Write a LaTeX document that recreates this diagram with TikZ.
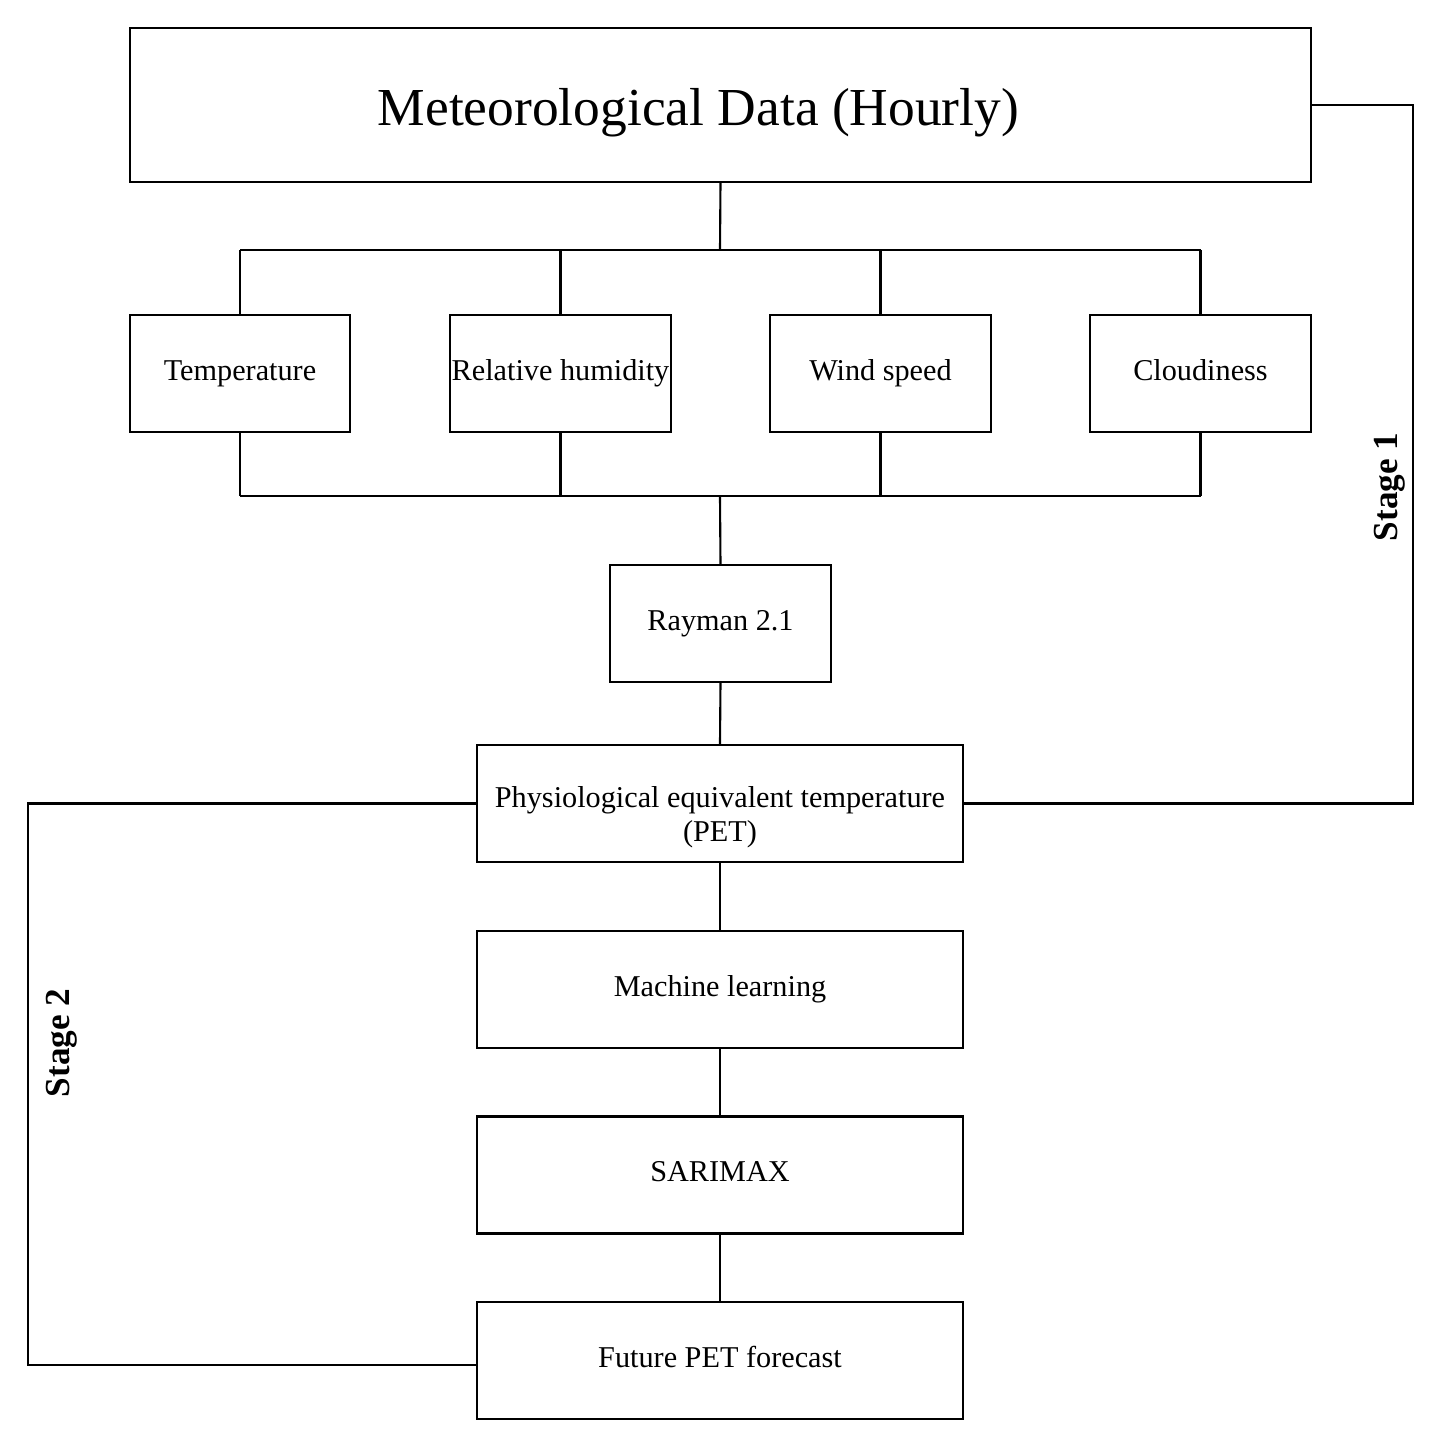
\documentclass[tikz,border=0pt]{standalone}
\usepackage{fontspec}
\setmainfont{Liberation Serif}
\begin{document}
\begin{tikzpicture}[x=0.01cm, y=-0.01cm,
		box/.style={draw, line width=0.6pt, inner sep=0pt, align=center, minimum height=1.17cm, font=\fontsize{8.6}{9.8}\selectfont, execute at begin node=\strut},
		link/.style={line width=0.6pt},
		stagelabel/.style={rotate=90, font=\bfseries\fontsize{10}{12}\selectfont}]
		\useasboundingbox (0,0) rectangle (1438,1450);

		% Draw top box
		\node[box, minimum width=11.81cm, minimum height=1.54cm, font=\fontsize{15.2}{18}\selectfont] (met) at (720.5,105) {\rule{0pt}{17pt}Meteorological Data (Hourly)\hspace*{0.44cm}};

		% Draw input boxes
		\node[box, minimum width=2.2cm] (temp) at (240,373.5) {Temperature};
		\node[box, minimum width=2.21cm] (hum) at (560.5,373.5) {Relative humidity};
		\node[box, minimum width=2.21cm] (wind) at (880.5,373.5) {Wind speed};
		\node[box, minimum width=2.21cm] (cloud) at (1200.5,373.5) {Cloudiness};

		% Draw process boxes
		\node[box, minimum width=2.21cm] (ray) at (720.5,623.5) {Rayman 2.1};
		\node[box, minimum width=4.86cm] (pet) at (720,803.5) {\rule{0pt}{15pt}Physiological equivalent temperature\\(PET)};
		\node[box, minimum width=4.86cm] (ml) at (720,989.5) {Machine learning};
		\node[box, minimum width=4.86cm] (sar) at (720,1175) {SARIMAX};
		\node[box, minimum width=4.86cm] (fut) at (720,1360.5) {Future PET forecast};

		% Draw branch lines
		\coordinate (top) at (720,250);
		\coordinate (bot) at (720,496);
		\draw[link] (met.south) -- (top);
		\draw[link] (temp.north |- top) -- (cloud.north |- top);
		\draw[link] (temp.south |- bot) -- (cloud.south |- bot);
		\foreach \n in {temp,hum,wind,cloud} {
			\draw[link] (\n.north) -- (\n.north |- top);
			\draw[link] (\n.south) -- (\n.south |- bot);
		}
		\draw[link] (bot) -- (ray.north);

		% Draw chain
		\draw[link] (ray.south) -- (pet.north);
		\draw[link] (pet.south) -- (ml.north);
		\draw[link] (ml.south) -- (sar.north);
		\draw[link] (sar.south) -- (fut.north);

		% Draw stages
		\draw[link] (met.east) -- ++(101,0) |- (pet.east);
		\draw[link] (pet.west) -- (28,803.5) |- ([yshift=-0.045cm]fut.west);
		\node[stagelabel] (s1) at (1390,487) {Stage 1};
		\node[stagelabel] (s2) at (62,1043) {Stage 2};
	\end{tikzpicture}
\end{document}
